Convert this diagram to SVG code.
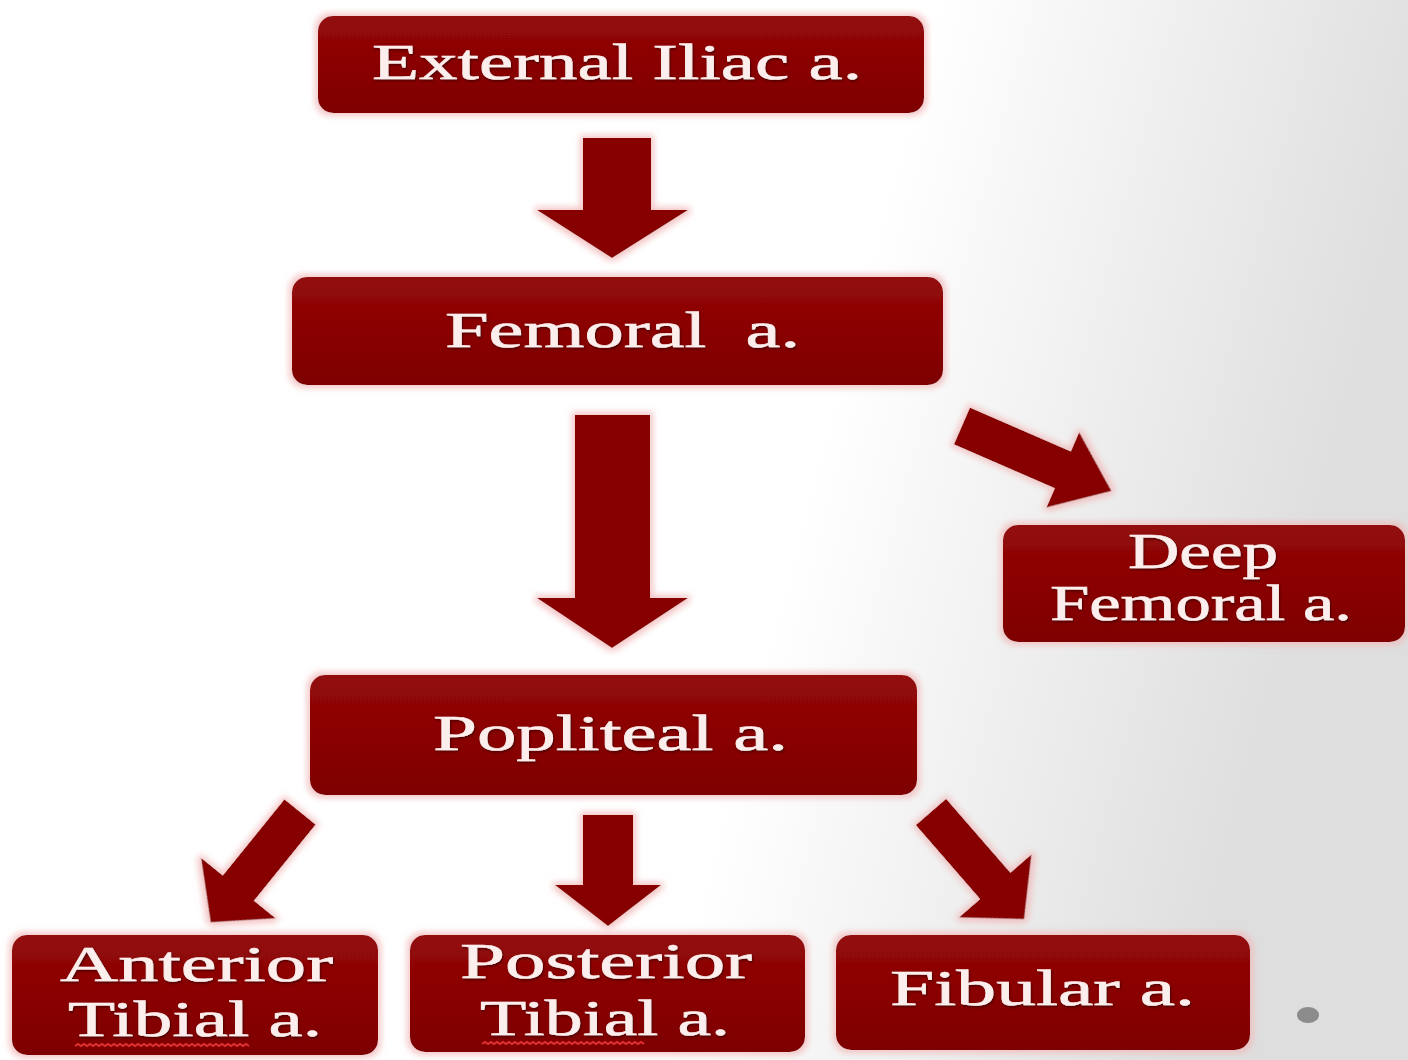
<svg xmlns="http://www.w3.org/2000/svg" width="1408" height="1060" viewBox="0 0 1408 1060">
<defs>
<linearGradient id="bg" x1="0" y1="0" x2="1" y2="0.2">
<stop offset="0" stop-color="#ffffff"/>
<stop offset="0.64" stop-color="#ffffff"/>
<stop offset="1" stop-color="#dedede"/>
</linearGradient>
<linearGradient id="boxfill" x1="0" y1="0" x2="0" y2="1">
<stop offset="0" stop-color="#930909"/>
<stop offset="0.5" stop-color="#8a0303"/>
<stop offset="1" stop-color="#7e0000"/>
</linearGradient>
<filter id="glow" x="-10%" y="-20%" width="120%" height="140%">
<feMorphology in="SourceAlpha" operator="dilate" radius="3" result="d"/>
<feGaussianBlur in="d" stdDeviation="3" result="b"/>
<feFlood flood-color="#f2b8b8" flood-opacity="0.8"/>
<feComposite in2="b" operator="in" result="g"/>
<feMerge><feMergeNode in="g"/><feMergeNode in="SourceGraphic"/></feMerge>
</filter>
<filter id="tshadow" x="-5%" y="-20%" width="110%" height="140%">
<feDropShadow dx="1" dy="1.5" stdDeviation="0.8" flood-color="#3a0000" flood-opacity="0.8"/>
</filter>
</defs>
<style>
.box{fill:url(#boxfill);filter:url(#glow);}
.lbl{font-family:"Liberation Serif","DejaVu Serif",serif;font-size:50px;fill:#fbeeec;stroke:#fbeeec;stroke-width:0.6;filter:url(#tshadow);}
.arr{fill:#870000;filter:url(#glow);}
.squig{fill:none;stroke:#e03030;stroke-width:2;}
</style>
<rect x="0" y="0" width="1408" height="1060" fill="url(#bg)"/>

<g id="connectors">
<polygon class="arr" points="583,138 651,138 651,210 688,210 612,258 537,210 583,210"/>
<polygon class="arr" points="575,415 650,415 650,598 688,598 612,648 537,598 575,598"/>
<g transform="translate(962,426) rotate(23.5)">
<polygon class="arr" points="0,-20 110,-20 110,-41 163,0 110,41 110,20 0,20"/>
</g>
<g transform="translate(300,812) rotate(129)">
<polygon class="arr" points="0,-20 98,-20 98,-48 142,0 98,48 98,20 0,20"/>
</g>
<polygon class="arr" points="583,815 633,815 633,885 661,885 608,926 555,885 583,885"/>
<g transform="translate(931,812) rotate(49)">
<polygon class="arr" points="0,-20 98,-20 98,-48 142,0 98,48 98,20 0,20"/>
</g>
</g>

<g id="external-iliac">
<rect class="box" x="318" y="16" width="606" height="97" rx="15"/>
<text class="lbl" x="372" y="79" textLength="490" lengthAdjust="spacingAndGlyphs">External Iliac a.</text>
</g>
<g id="femoral">
<rect class="box" x="292" y="277" width="651" height="108" rx="15"/>
<text class="lbl" x="445" y="347" textLength="355" lengthAdjust="spacingAndGlyphs" xml:space="preserve">Femoral  a.</text>
</g>
<g id="deep-femoral">
<rect class="box" x="1003" y="525" width="402" height="117" rx="15"/>
<text class="lbl" x="1128" y="568" textLength="150" lengthAdjust="spacingAndGlyphs">Deep</text>
<text class="lbl" x="1050" y="620" textLength="302" lengthAdjust="spacingAndGlyphs">Femoral a.</text>
</g>
<g id="popliteal">
<rect class="box" x="310" y="675" width="607" height="120" rx="15"/>
<text class="lbl" x="433" y="750" textLength="355" lengthAdjust="spacingAndGlyphs">Popliteal a.</text>
</g>
<g id="anterior-tibial">
<rect class="box" x="12" y="935" width="366" height="120" rx="15"/>
<text class="lbl" x="60" y="981" textLength="273" lengthAdjust="spacingAndGlyphs">Anterior</text>
<text class="lbl" x="68" y="1036" textLength="254" lengthAdjust="spacingAndGlyphs">Tibial a.</text>
<path class="squig" d="M75,1046 l3,-2 l3,2 l3,-2 l3,2 l3,-2 l3,2 l3,-2 l3,2 l3,-2 l3,2 l3,-2 l3,2 l3,-2 l3,2 l3,-2 l3,2 l3,-2 l3,2 l3,-2 l3,2 l3,-2 l3,2 l3,-2 l3,2 l3,-2 l3,2 l3,-2 l3,2 l3,-2 l3,2 l3,-2 l3,2 l3,-2 l3,2 l3,-2 l3,2 l3,-2 l3,2 l3,-2 l3,2 l3,-2 l3,2 l3,-2 l3,2 l3,-2 l3,2 l3,-2 l3,2 l3,-2 l3,2 l3,-2 l3,2 l3,-2 l3,2 l3,-2 l3,2 l3,-2 l3,2"/>
</g>
<g id="posterior-tibial">
<rect class="box" x="410" y="935" width="395" height="117" rx="15"/>
<text class="lbl" x="460" y="978" textLength="292" lengthAdjust="spacingAndGlyphs">Posterior</text>
<text class="lbl" x="480" y="1035" textLength="250" lengthAdjust="spacingAndGlyphs">Tibial a.</text>
<path class="squig" d="M482,1044 l3,-2 l3,2 l3,-2 l3,2 l3,-2 l3,2 l3,-2 l3,2 l3,-2 l3,2 l3,-2 l3,2 l3,-2 l3,2 l3,-2 l3,2 l3,-2 l3,2 l3,-2 l3,2 l3,-2 l3,2 l3,-2 l3,2 l3,-2 l3,2 l3,-2 l3,2 l3,-2 l3,2 l3,-2 l3,2 l3,-2 l3,2 l3,-2 l3,2 l3,-2 l3,2 l3,-2 l3,2 l3,-2 l3,2 l3,-2 l3,2 l3,-2 l3,2 l3,-2 l3,2 l3,-2 l3,2 l3,-2 l3,2 l3,-2 l3,2"/>
</g>
<g id="fibular">
<rect class="box" x="836" y="935" width="414" height="115" rx="15"/>
<text class="lbl" x="890" y="1005" textLength="305" lengthAdjust="spacingAndGlyphs">Fibular a.</text>
</g>
<ellipse cx="1308" cy="1015" rx="11" ry="8" fill="#8c8c8c"/>
</svg>
